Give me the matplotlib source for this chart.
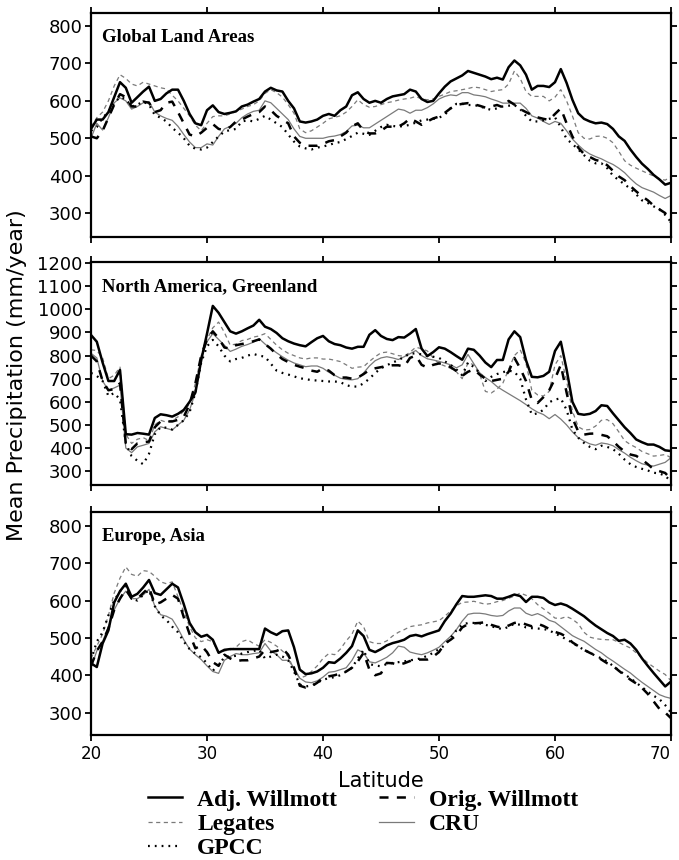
import numpy as np
import matplotlib
matplotlib.use('Agg')
import matplotlib.pyplot as plt
from matplotlib.lines import Line2D

plt.rcParams['lines.scale_dashes'] = False
plt.rcParams['font.family'] = ['DejaVu Sans']

# latitude grid (0.5 deg)
lat = np.arange(20, 70.25, 0.5)

# Global land areas
glob_adj = [525, 550, 550, 570, 610, 650, 635, 595, 610, 625,
            638, 600, 605, 620, 630, 630, 600, 565, 540, 535,
            575, 588, 570, 565, 568, 572, 585, 590, 598, 605,
            625, 635, 628, 625, 600, 580, 545, 542, 545, 550,
            560, 565, 560, 575, 585, 615, 623, 605, 595, 600,
            595, 605, 612, 615, 618, 630, 625, 605, 597, 600,
            620, 638, 652, 660, 668, 680, 675, 670, 665, 658,
            662, 657, 690, 708, 695, 670, 630, 640, 640, 637,
            650, 685, 648, 603, 567, 552, 545, 540, 542, 538,
            525, 505, 493, 470, 450, 432, 418, 402, 390, 376,
            381]
glob_orig = [505, 500, 520, 555, 590, 618, 610, 585, 585, 598,
             595, 570, 575, 595, 598, 570, 540, 510, 505, 515,
             528, 538, 525, 522, 530, 545, 550, 558, 565, 570,
             585, 575, 560, 550, 540, 505, 488, 480, 480, 480,
             485, 492, 495, 505, 515, 532, 540, 520, 513, 513,
             520, 531, 531, 531, 540, 553, 545, 536, 545, 553,
             558, 568, 580, 589, 592, 594, 591, 587, 582, 585,
             589, 583, 600, 590, 578, 570, 562, 556, 552, 549,
             565, 580, 540, 505, 475, 458, 450, 442, 438, 428,
             413, 398, 388, 372, 358, 345, 334, 320, 310, 300,
             275]
glob_leg = [530, 555, 570, 600, 640, 670, 660, 645, 640, 650,
            645, 640, 635, 632, 615, 600, 580, 560, 535, 520,
            540, 558, 560, 560, 565, 572, 578, 585, 590, 600,
            620, 630, 622, 610, 590, 567, 525, 515, 520, 530,
            540, 552, 556, 560, 570, 585, 603, 590, 583, 585,
            590, 595, 598, 602, 605, 607, 612, 605, 603, 605,
            612, 618, 625, 627, 630, 633, 637, 635, 630, 625,
            628, 630, 645, 680, 660, 625, 612, 612, 612, 600,
            610, 630, 600, 560, 515, 500, 498, 505, 506, 500,
            488, 465, 440, 428, 420, 413, 406, 399, 392, 388,
            397]
glob_cru = [500, 540, 522, 555, 595, 608, 600, 578, 585, 595,
            598, 570, 560, 553, 548, 532, 510, 490, 475, 475,
            485, 482, 505, 525, 532, 540, 555, 565, 572, 575,
            600, 595, 580, 565, 550, 525, 505, 500, 500, 500,
            500, 504, 506, 510, 518, 533, 535, 528, 528, 538,
            548, 558, 568, 578, 575, 567, 575, 575, 582, 592,
            605, 612, 616, 614, 622, 622, 616, 614, 611, 605,
            600, 594, 594, 594, 594, 580, 560, 554, 545, 537,
            545, 540, 520, 498, 482, 468, 458, 451, 445, 437,
            430, 420, 408, 392, 378, 368, 362, 356, 347, 339,
            347]
glob_gpcc = [520, 530, 555, 570, 595, 610, 605, 585, 590, 598,
             590, 562, 555, 545, 528, 515, 500, 480, 472, 470,
             475, 490, 505, 518, 522, 525, 545, 548, 545, 552,
             560, 550, 540, 530, 510, 491, 478, 473, 470, 475,
             478, 482, 487, 490, 498, 506, 515, 512, 509, 520,
             530, 536, 533, 531, 533, 536, 542, 548, 550, 552,
             555, 563, 580, 592, 592, 589, 589, 586, 580, 576,
             580, 585, 587, 589, 578, 560, 545, 545, 548, 552,
             556, 530, 498, 485, 470, 455, 440, 433, 433, 420,
             400, 388, 377, 365, 350, 334, 327, 318, 310, 295,
             276]

# North America, Greenland
na_adj = [889, 860, 770, 690, 690, 738, 460, 458, 465, 462,
          458, 530, 546, 542, 536, 548, 565, 600, 640, 780,
          895, 1015, 985, 945, 905, 895, 905, 918, 930, 955,
          925, 915, 898, 875, 862, 852, 845, 840, 858, 875,
          885, 862, 850, 845, 835, 830, 838, 838, 890, 910,
          885, 872, 867, 880, 878, 895, 915, 830, 798, 815,
          836, 830, 815, 798, 782, 830, 825, 800, 770, 750,
          781, 781, 870, 905, 880, 780, 708, 706, 712, 730,
          820, 860, 740, 600, 548, 544, 548, 560, 585, 582,
          550, 520, 490, 465, 437, 425, 415, 415, 405, 390,
          387]
na_orig = [800, 775, 690, 650, 655, 680, 420, 395, 420, 425,
           428, 490, 515, 515, 515, 522, 535, 590, 680, 800,
           870, 905, 875, 835, 830, 845, 850, 855, 862, 870,
           850, 830, 805, 785, 772, 760, 752, 745, 735, 730,
           745, 735, 715, 705, 705, 700, 705, 720, 738, 745,
           750, 755, 758, 758, 752, 790, 800, 760, 748, 760,
           766, 762, 750, 733, 712, 730, 740, 718, 700, 690,
           695, 700, 730, 790, 745, 690, 608, 595, 620, 650,
           700, 760, 640, 530, 472, 458, 462, 463, 457, 451,
           430, 405, 385, 372, 366, 350, 330, 308, 300, 292,
           265]
na_leg = [825, 822, 790, 700, 715, 750, 460, 420, 438, 445,
          432, 500, 520, 512, 520, 535, 560, 590, 680, 800,
          870, 920, 945, 900, 845, 850, 865, 870, 880, 885,
          895, 870, 845, 825, 810, 800, 790, 785, 790, 790,
          785, 785, 780, 774, 760, 745, 750, 752, 775, 795,
          812, 815, 808, 800, 797, 815, 836, 830, 820, 790,
          765, 755, 745, 730, 700, 770, 760, 720, 645, 638,
          655, 680, 740, 800, 825, 767, 650, 630, 625, 645,
          760, 800, 690, 560, 492, 478, 480, 495, 520, 523,
          505, 470, 432, 415, 402, 385, 375, 365, 368, 372,
          358]
na_cru = [810, 790, 690, 650, 660, 672, 400, 380, 405, 412,
          420, 470, 492, 485, 478, 500, 520, 565, 640, 790,
          860, 895, 870, 845, 818, 828, 840, 848, 858, 873,
          850, 830, 812, 795, 780, 768, 760, 752, 755, 755,
          745, 728, 715, 702, 697, 695, 700, 725, 755, 778,
          790, 795, 790, 783, 795, 808, 822, 800, 786, 781,
          775, 768, 760, 747, 760, 805, 765, 726, 705, 688,
          666, 650, 635, 620, 605, 588, 570, 555, 545, 527,
          545, 525, 500, 470, 445, 430, 418, 412, 422, 418,
          410, 393, 378, 360, 345, 332, 326, 322, 330, 338,
          358]
na_gpcc = [725, 712, 690, 625, 638, 610, 420, 365, 345, 330,
           375, 460, 490, 488, 480, 500, 520, 555, 640, 770,
           840, 868, 840, 800, 775, 785, 790, 800, 807, 800,
           795, 765, 735, 725, 718, 710, 702, 698, 694, 692,
           690, 688, 688, 685, 672, 666, 666, 680, 700, 725,
           745, 758, 770, 780, 795, 808, 810, 805, 798, 795,
           790, 775, 760, 740, 715, 770, 750, 725, 690, 708,
           720, 728, 735, 730, 700, 610, 545, 550, 565, 598,
           610, 615, 565, 480, 445, 422, 405, 395, 410, 405,
           395, 375, 350, 330, 318, 310, 303, 293, 290, 280,
           255]

# Europe, Asia
ea_adj = [432, 422, 485, 520, 595, 625, 645, 610, 618, 635,
          655, 620, 615, 630, 645, 635, 590, 540, 515, 503,
          508, 495, 460, 468, 470, 470, 470, 470, 470, 470,
          525, 515, 508, 518, 520, 475, 415, 403, 405, 410,
          420, 435, 433, 445, 460, 478, 520, 505, 468, 462,
          470, 480, 486, 490, 495, 505, 508, 504, 510, 515,
          520, 545, 565, 590, 612, 610, 610, 612, 614, 612,
          605, 605, 610, 616, 612, 596, 610, 610, 607, 595,
          588, 592, 587, 578, 568, 558, 545, 533, 523, 513,
          505, 492, 495, 485, 468, 445, 425, 406, 388, 370,
          383]
ea_orig = [425, 465, 490, 525, 575, 605, 630, 605, 605, 620,
           635, 590, 595, 605, 615, 605, 555, 510, 472, 480,
           462, 435, 425, 455, 445, 438, 440, 440, 445, 450,
           468, 462, 465, 472, 455, 420, 372, 367, 370, 380,
           392, 397, 400, 405, 410, 420, 437, 460, 415, 400,
           405, 433, 432, 428, 432, 438, 442, 442, 442, 450,
           462, 485, 495, 507, 528, 537, 539, 540, 542, 535,
           530, 527, 533, 540, 542, 536, 531, 538, 532, 524,
           516, 511, 503, 488, 478, 468, 460, 453, 442, 432,
           425, 412, 400, 388, 378, 366, 350, 330, 310, 300,
           285]
ea_leg = [445, 478, 510, 560, 620, 660, 690, 670, 665, 680,
          678, 665, 650, 645, 650, 610, 570, 530, 500, 490,
          495, 490, 460, 465, 468, 475, 490, 495, 485, 478,
          495, 488, 478, 465, 450, 415, 392, 398, 410, 425,
          445, 458, 455, 470, 492, 510, 545, 530, 490, 485,
          485, 492, 505, 515, 522, 530, 533, 535, 540, 543,
          546, 558, 572, 586, 595, 596, 598, 594, 590, 592,
          597, 600, 606, 612, 620, 614, 605, 589, 578, 566,
          553, 552, 557, 550, 538, 515, 502, 498, 496, 495,
          495, 488, 480, 473, 460, 447, 433, 422, 411, 402,
          385]
ea_cru = [420, 465, 490, 530, 575, 605, 625, 605, 605, 615,
          630, 585, 562, 558, 550, 525, 495, 470, 455, 442,
          425, 410, 405, 440, 450, 458, 455, 455, 458, 460,
          485, 465, 455, 440, 440, 420, 392, 382, 380, 385,
          395, 408, 410, 415, 420, 440, 468, 460, 436, 433,
          440, 448, 460, 478, 475, 462, 458, 455, 460, 467,
          475, 490, 504, 522, 545, 563, 566, 566, 564, 560,
          558, 560, 572, 580, 580, 566, 560, 565, 558, 547,
          542, 530, 518, 506, 498, 491, 480, 469, 460, 448,
          438, 427, 416, 406, 393, 381, 370, 359, 348, 342,
          338]
ea_gpcc = [440, 490, 515, 560, 600, 625, 640, 605, 600, 615,
           628, 585, 560, 548, 530, 515, 490, 470, 458, 448,
           432, 412, 428, 448, 450, 452, 458, 462, 465, 468,
           445, 450, 455, 450, 440, 410, 375, 370, 372, 380,
           388, 392, 395, 400, 410, 420, 445, 468, 430, 426,
           424, 430, 433, 435, 437, 440, 442, 446, 452, 460,
           470, 480, 500, 520, 535, 540, 540, 539, 535, 531,
           527, 523, 530, 538, 535, 528, 526, 525, 524, 520,
           512, 504, 496, 487, 477, 468, 460, 452, 445, 437,
           425, 413, 402, 392, 380, 368, 356, 345, 336, 320,
           300]

titles = ['Global Land Areas', 'North America, Greenland', 'Europe, Asia']
ylims = [(236, 835), (240, 1205), (240, 837)]
yticks = [np.arange(300, 801, 100), np.arange(300, 1201, 100), np.arange(300, 801, 100)]
xticks = [20, 30, 40, 50, 60, 70]

gray = '#7a7a7a'
styles = {
    'adj': dict(color='k', lw=1.8),
    'orig': dict(color='k', lw=1.8, dashes=(6.5, 6)),
    'leg': dict(color=gray, lw=0.9, dashes=(3, 2.5)),
    'cru': dict(color=gray, lw=0.9),
    'gpcc': dict(color='k', lw=1.6, dashes=(1.3, 3.6)),
}

fig = plt.figure(figsize=(6.79, 8.6), dpi=100)
W, H = 679., 860.
boxes = [(13, 237), (262, 485), (512, 735)]
data = [(glob_adj, glob_orig, glob_leg, glob_cru, glob_gpcc),
        (na_adj, na_orig, na_leg, na_cru, na_gpcc),
        (ea_adj, ea_orig, ea_leg, ea_cru, ea_gpcc)]

for i in range(3):
    top, bot = boxes[i]
    ax = fig.add_axes([91 / W, 1 - bot / H, 580 / W, (bot - top) / H])
    adj, orig, leg, cru, gpcc = data[i]
    ax.plot(lat, cru, **styles['cru'])
    ax.plot(lat, leg, **styles['leg'])
    ax.plot(lat, gpcc, **styles['gpcc'])
    ax.plot(lat, orig, **styles['orig'])
    ax.plot(lat, adj, **styles['adj'])
    ax.set_xlim(20, 70)
    ax.set_ylim(*ylims[i])
    ax.set_xticks(xticks)
    ax.set_yticks(yticks[i])
    for s in ax.spines.values():
        s.set_linewidth(1.6)
    ax.tick_params(direction='out', length=4.5, width=1.3, top=True, right=True,
                   pad=1.5)
    ax.tick_params(axis='y', labelsize=13)
    ax.tick_params(axis='x', labelsize=12, pad=3, labelbottom=(i == 2))
    if i == 2:
        # keep the last label inside the figure
        ax.get_xticklabels()[-1].set_horizontalalignment('right')
    ax.text(0.019, 0.87, titles[i], transform=ax.transAxes, family='Liberation Serif',
            fontweight='bold', fontsize=13.5, va='baseline')

fig.text(17 / W, 1 - 375 / H, 'Mean Precipitation (mm/year)', rotation=90,
         ha='center', va='center', fontsize=16)
fig.text(381 / W, 1 - 781 / H, 'Latitude', ha='center', va='center', fontsize=15)

handles = [Line2D([], [], **styles['adj']), Line2D([], [], **styles['leg']),
           Line2D([], [], **styles['gpcc']), Line2D([], [], **styles['orig']),
           Line2D([], [], **styles['cru'])]
labels = ['Adj. Willmott', 'Legates', 'GPCC', 'Orig. Willmott', 'CRU']
fig.legend(handles, labels, ncol=2, loc='upper left', bbox_to_anchor=(148 / W, 1 - 789 / H),
           frameon=False, borderpad=0, borderaxespad=0, handlelength=1.45,
           handletextpad=0.64, columnspacing=1.78, labelspacing=0.12,
           prop=dict(family='Liberation Serif', weight='bold', size=17))

fig.savefig('out.png', dpi=100)
